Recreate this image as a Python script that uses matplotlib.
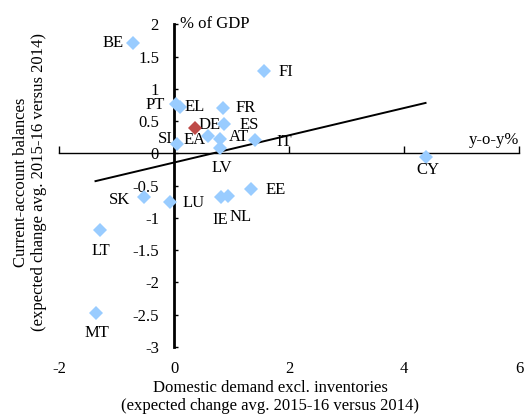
import numpy as np
import matplotlib
matplotlib.use("Agg")
import matplotlib.pyplot as plt

plt.rcParams['font.family'] = ['Liberation Serif', 'DejaVu Serif']

countries = ["BE", "FI", "PT", "EL", "FR", "ES", "DE", "SI", "AT", "IT",
             "LV", "CY", "EE", "NL", "IE", "LU", "SK", "LT", "MT"]
demand = [-0.71, 1.56, 0.03, 0.10, 0.84, 0.87, 0.59, 0.05, 0.80, 1.40,
          0.80, 4.37, 1.34, 0.94, 0.81, -0.07, -0.52, -1.29, -1.37]
current_account = [1.71, 1.27, 0.77, 0.72, 0.70, 0.46, 0.27, 0.14, 0.22, 0.21,
                   0.08, -0.05, -0.56, -0.66, -0.67, -0.75, -0.67, -1.19, -2.47]
ea_label = "EA"
ea_demand = [0.36]
ea_current_account = [0.39]

xticks = [-2, 0, 2, 4, 6]
yticks = [2, 1.5, 1, 0.5, 0, -0.5, -1, -1.5, -2, -2.5, -3]
ytick_labels = ["2", "1.5", "1", "0.5", "0", "-0.5", "-1", "-1.5", "-2", "-2.5", "-3"]

# label placement (offset pixels, alignment)
label_style = {
    "BE": (-10, 0, "right"), "FI": (15, -1, "left"), "PT": (-11, -1, "right"),
    "EL": (4, 0, "left"), "FR": (13, 0, "left"), "ES": (15, -1, "left"),
    "DE": (-10, 11, "left"), "SI": (-5, 5, "right"), "AT": (9, 2, "left"),
    "IT": (22, -2, "left"), "LV": (2, -20, "center"), "CY": (2, -13, "center"),
    "EE": (14, -1, "left"), "NL": (12, -21, "center"), "IE": (-1, -23, "center"),
    "LU": (12, -1, "left"), "SK": (-14, -3, "right"), "LT": (1, -21, "center"),
    "MT": (1, -20, "center"),
}
fs = 12

fig = plt.figure(figsize=(5.26, 4.17), dpi=100)
ax = fig.add_axes([0.1127, 0.1683, 0.8745, 0.7734])
ax.set_xlim(-2, 6)
ax.set_ylim(-3, 2)

# trend line
coef = np.polyfit(demand, current_account, 1)
xs = np.array([min(demand), max(demand)])
ax.plot(xs, np.polyval(coef, xs), color="black", lw=1.4, zorder=2)

ax.plot(demand, current_account, linestyle="none", marker="D", markersize=6.8,
        color="#99CCFF", markeredgewidth=0, zorder=3)
ax.plot(ea_demand, ea_current_account, linestyle="none", marker="D", markersize=6.8,
        color="#BE4B48", markeredgewidth=0, zorder=4)

for c, x, y in zip(countries, demand, current_account):
    dx, dy, ha = label_style[c]
    ax.annotate(c, (x, y), xytext=(dx, dy), textcoords="offset pixels",
                ha=ha, va="center", fontsize=fs)
ax.annotate(ea_label, (ea_demand[0], ea_current_account[0]), xytext=(-11, -12),
            textcoords="offset pixels", ha="left", va="center", fontsize=fs)

for s in ["top", "right"]:
    ax.spines[s].set_visible(False)
ax.spines["left"].set_position(("data", 0))
ax.spines["left"].set_linewidth(2.0)
ax.spines["bottom"].set_position(("data", 0))
ax.spines["bottom"].set_linewidth(1.0)

ax.set_yticks(yticks)
ax.set_yticklabels(ytick_labels)
ax.tick_params(axis="y", direction="in", length=3, width=1, labelsize=fs, pad=11)
ax.set_xticks(xticks)
ax.tick_params(axis="x", direction="in", length=5, width=1, labelbottom=False)

sec = ax.secondary_xaxis("bottom")
sec.set_xticks(xticks)
sec.set_xticklabels([str(t) for t in xticks])
sec.spines["bottom"].set_visible(False)
sec.tick_params(length=0, labelsize=fs, pad=10)

ax.annotate("% of GDP", (0, 2.0), xytext=(6, 0), textcoords="offset pixels",
            ha="left", va="center", fontsize=fs, zorder=5)
ax.text(6.0, 0.2, "y-o-y%", ha="right", va="center", fontsize=fs)

fig.text(270 / 526, 1 - 397 / 417,
         "Domestic demand excl. inventories\n(expected change avg. 2015-16 versus 2014)",
         ha="center", va="center", fontsize=fs, linespacing=1.1)
fig.text(30 / 526, 1 - 182 / 417,
         "Current-account balances\n(expected change avg. 2015-16 versus 2014)",
         ha="center", va="center", rotation=90, fontsize=fs, linespacing=1.15)

fig.savefig("out.png", dpi=100)
